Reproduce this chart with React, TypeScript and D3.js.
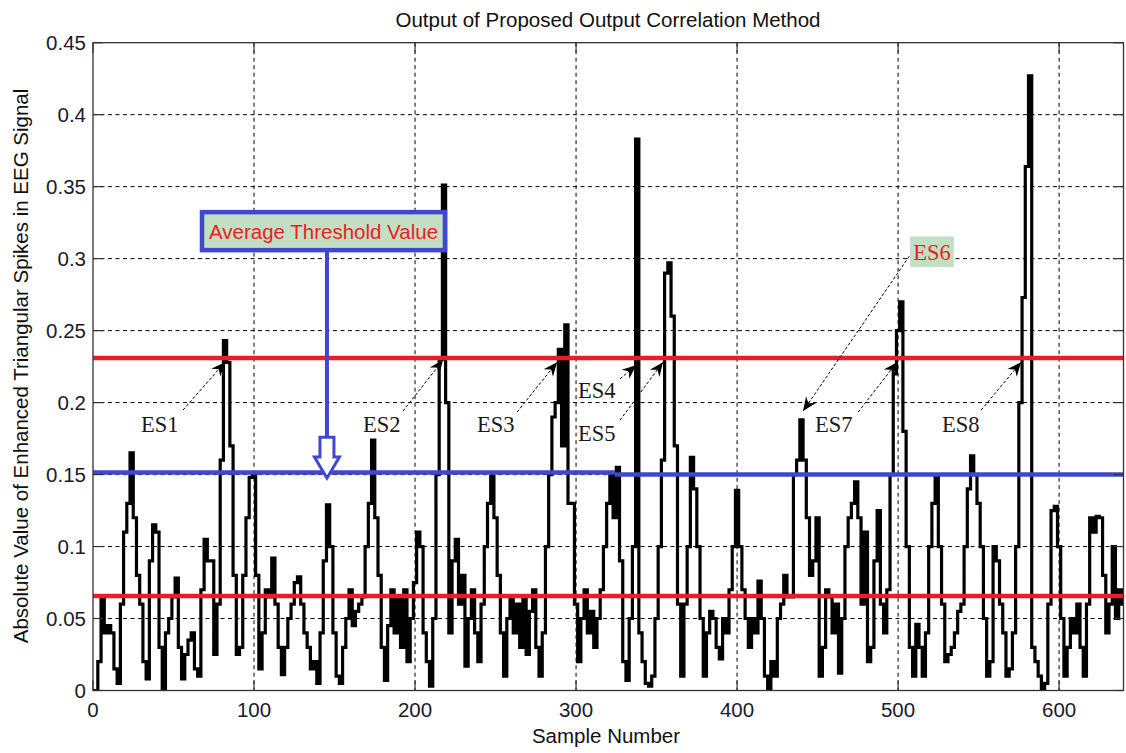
import React from 'react';
import * as d3 from 'd3';

// Output of the correlation detector, one value every other sample (0, 2, 4, ... 640)
const sampleStep = 2;
const signalValues = [
  0, 0, 0.02, 0.065, 0.04, 0.045, 0.04, 0.015, 0.005, 0.06,
  0.11, 0.13, 0.165, 0.12, 0.08, 0.06, 0.02, 0.008, 0.09, 0.115,
  0.11, 0.03, 0.0, 0.04, 0.05, 0.065, 0.078, 0.03, 0.008, 0.025,
  0.035, 0.04, 0.015, 0.01, 0.07, 0.105, 0.09, 0.09, 0.025, 0.06,
  0.16, 0.243, 0.228, 0.17, 0.08, 0.025, 0.03, 0.08, 0.12, 0.148,
  0.15, 0.08, 0.015, 0.04, 0.07, 0.065, 0.092, 0.06, 0.03, 0.011,
  0.03, 0.05, 0.06, 0.075, 0.079, 0.06, 0.04, 0.03, 0.015, 0.02,
  0.005, 0.04, 0.09, 0.129, 0.1, 0.04, 0.01, 0.005, 0.03, 0.05,
  0.07, 0.045, 0.055, 0.06, 0.065, 0.1, 0.13, 0.174, 0.12, 0.08,
  0.03, 0.007, 0.045, 0.07, 0.04, 0.065, 0.03, 0.07, 0.02, 0.05,
  0.075, 0.11, 0.1, 0.04, 0.02, 0.003, 0.05, 0.15, 0.23, 0.351,
  0.2, 0.04, 0.09, 0.105, 0.06, 0.08, 0.017, 0.05, 0.07, 0.04,
  0.02, 0.06, 0.1, 0.13, 0.149, 0.12, 0.08, 0.04, 0.01, 0.05,
  0.065, 0.04, 0.06, 0.03, 0.065, 0.025, 0.055, 0.07, 0.03, 0.01,
  0.04, 0.1, 0.15, 0.19, 0.2, 0.237, 0.17, 0.254, 0.13, 0.13,
  0.06, 0.02, 0.05, 0.07, 0.04, 0.055, 0.03, 0.05, 0.07, 0.1,
  0.13, 0.15, 0.12, 0.155, 0.09, 0.02, 0.007, 0.05, 0.1, 0.383,
  0.04, 0.02, 0.005, 0.003, 0.01, 0.05, 0.1, 0.16, 0.29, 0.297,
  0.26, 0.17, 0.06, 0.01, 0.06, 0.1, 0.162, 0.14, 0.1, 0.05,
  0.01, 0.04, 0.055, 0.05, 0.03, 0.022, 0.05, 0.04, 0.07, 0.1,
  0.139, 0.1, 0.07, 0.05, 0.03, 0.05, 0.04, 0.076, 0.05, 0.01,
  0.0, 0.02, 0.01, 0.05, 0.06, 0.08, 0.065, 0.065, 0.15, 0.16,
  0.188, 0.16, 0.12, 0.08, 0.09, 0.12, 0.01, 0.03, 0.07, 0.065,
  0.04, 0.06, 0.012, 0.05, 0.1, 0.12, 0.13, 0.145, 0.12, 0.06,
  0.11, 0.02, 0.03, 0.09, 0.125, 0.06, 0.04, 0.07, 0.15, 0.22,
  0.25, 0.27, 0.18, 0.1, 0.03, 0.01, 0.046, 0.03, 0.01, 0.04,
  0.1, 0.13, 0.15, 0.1, 0.06, 0.02, 0.025, 0.03, 0.04, 0.055,
  0.06, 0.1, 0.14, 0.163, 0.15, 0.13, 0.1, 0.05, 0.01, 0.02,
  0.1, 0.09, 0.06, 0.04, 0.01, 0.015, 0.04, 0.1, 0.2, 0.273,
  0.364, 0.427, 0.03, 0.02, 0.01, 0.0, 0.005, 0.06, 0.125, 0.128,
  0.1, 0.05, 0.01, 0.03, 0.05, 0.04, 0.06, 0.03, 0.01, 0.06,
  0.12, 0.11, 0.121, 0.12, 0.08, 0.04, 0.06, 0.1, 0.05, 0.07,
  0.06,
];

const xTicks = [0, 100, 200, 300, 400, 500, 600];
const yTicks = [0, 0.05, 0.1, 0.15, 0.2, 0.25, 0.3, 0.35, 0.4, 0.45];
const yTickLabels = ['0', '0.05', '0.1', '0.15', '0.2', '0.25', '0.3', '0.35', '0.4', '0.45'];

// Threshold levels
const upperThreshold = 0.231;
const lowerThreshold = 0.0656;
const averageThresholdStart = [0, 324];
const averageThresholdEnd = [324, 640];
const averageThresholdLevel = [0.1515, 0.15];

// Spike annotations (sample, value) for label, arrow tail and arrow tip
const spikeNames = ['ES1', 'ES2', 'ES3', 'ES4', 'ES5', 'ES7', 'ES8'];
const spikeLabelAt = [
  [29.8, 0.1795], [167.7, 0.1795], [238.5, 0.1795], [301.2, 0.2031],
  [301.2, 0.1735], [448.4, 0.1795], [527.3, 0.1795],
];
const spikeArrowFrom = [
  [55.9, 0.1948], [192.5, 0.1941], [263.4, 0.1934], [327.3, 0.2165],
  [327.3, 0.1878], [475.2, 0.1934], [551.6, 0.1948],
];
const spikeArrowTo = [
  [82.0, 0.2281], [217.4, 0.2295], [288.2, 0.2281], [337.3, 0.2260],
  [354.0, 0.2281], [499.4, 0.2281], [576.4, 0.2281],
];
const es6Name = 'ES6';
const es6Box = [507.5, 534.6, 0.3155, 0.2942];
const es6From = [508.7, 0.3045];
const es6To = [441.0, 0.1941];

const avgLabel = 'Average Threshold Value';
const avgBox = [67.7, 218.6, 0.3323, 0.3059];
const avgArrowSample = 145.3;
const avgArrowLevels = [0.3059, 0.176, 0.1622, 0.1475];

const W = 1126;
const H = 753;
const margin = { left: 93, right: 2.5, top: 42.7, bottom: 62.5 };

const x = d3.scaleLinear().domain([0, 640]).range([margin.left, W - margin.right]);
const y = d3.scaleLinear().domain([0, 0.45]).range([H - margin.bottom, margin.top]);

const RED = '#ec1c24';
const BLUE = '#3f48cc';
const GREEN = '#c3dfc3';
const SANS = '"Liberation Sans", Arial, sans-serif';
const SERIF = '"Liberation Serif", "Times New Roman", serif';

function arrowHead(x1: number, y1: number, x2: number, y2: number, L = 14, Wd = 6, back = 4.5) {
  const dx = x2 - x1;
  const dy = y2 - y1;
  const len = Math.hypot(dx, dy);
  const ux = dx / len;
  const uy = dy / len;
  const nx = -uy;
  const ny = ux;
  const bx = x2 - ux * L;
  const by = y2 - uy * L;
  const mx = x2 - ux * (L - back);
  const my = y2 - uy * (L - back);
  return `M${x2},${y2}L${bx + nx * Wd},${by + ny * Wd}L${mx},${my}L${bx - nx * Wd},${by - ny * Wd}Z`;
}

export default function App() {
  const data = signalValues.map((v, i) => [i * sampleStep, v] as [number, number]);
  const line = d3
    .line<[number, number]>()
    .x((d) => x(d[0]))
    .y((d) => y(d[1]))
    .curve(d3.curveStep);

  const x0 = x(0);
  const x1 = x(640);
  const yTop = y(0.45);
  const yBot = y(0);
  const tickLen = 10;

  const ac = x(avgArrowSample);
  const shaftTop = y(avgArrowLevels[1]);
  const headBase = y(avgArrowLevels[2]);
  const tip = y(avgArrowLevels[3]);
  const blockArrow = `M${ac - 7},${shaftTop}L${ac + 7},${shaftTop}L${ac + 7},${headBase}L${ac + 12.5},${headBase}L${ac},${tip}L${ac - 12.5},${headBase}L${ac - 7},${headBase}Z`;

  return (
    <svg
      width={W}
      height={H}
      style={{ position: 'absolute', left: 0, top: 0, background: '#fff' }}
    >
      <rect x={0} y={0} width={W} height={H} fill="#fff" />
      <defs>
        <clipPath id="plotClip">
          <rect x={x0} y={yTop} width={x1 - x0} height={yBot - yTop} />
        </clipPath>
      </defs>

      {/* grid */}
      <g stroke="#000" strokeWidth={1} strokeDasharray="4,3.5">
        {xTicks.filter((t) => t > 0).map((t) => (
          <line key={`gx${t}`} x1={x(t)} x2={x(t)} y1={yTop} y2={yBot} />
        ))}
        {yTicks.filter((t) => t > 0 && t < 0.45).map((t) => (
          <line key={`gy${t}`} x1={x0} x2={x1} y1={y(t)} y2={y(t)} />
        ))}
      </g>

      {/* signal */}
      <path
        d={line(data) || ''}
        fill="none"
        stroke="#000"
        strokeWidth={3.2}
        strokeLinejoin="miter"
        clipPath="url(#plotClip)"
      />

      {/* thresholds */}
      <line x1={x0} x2={x1} y1={y(upperThreshold)} y2={y(upperThreshold)} stroke={RED} strokeWidth={4.5} />
      <line x1={x0} x2={x1} y1={y(lowerThreshold)} y2={y(lowerThreshold)} stroke={RED} strokeWidth={4.5} />
      {averageThresholdLevel.map((v, i) => (
        <line
          key={`avg${i}`}
          x1={x(averageThresholdStart[i])}
          x2={x(averageThresholdEnd[i])}
          y1={y(v)}
          y2={y(v)}
          stroke={BLUE}
          strokeWidth={4.5}
        />
      ))}

      {/* axes box and ticks */}
      <rect x={x0} y={yTop} width={x1 - x0} height={yBot - yTop} fill="none" stroke="#333" strokeWidth={1.3} />
      <g stroke="#333" strokeWidth={1.2}>
        {xTicks.map((t) => (
          <g key={`tx${t}`}>
            <line x1={x(t)} x2={x(t)} y1={yBot} y2={yBot - tickLen} />
            <line x1={x(t)} x2={x(t)} y1={yTop} y2={yTop + tickLen} />
          </g>
        ))}
        {yTicks.map((t) => (
          <g key={`ty${t}`}>
            <line x1={x0} x2={x0 + tickLen} y1={y(t)} y2={y(t)} />
            <line x1={x1} x2={x1 - tickLen} y1={y(t)} y2={y(t)} />
          </g>
        ))}
      </g>

      {/* tick labels */}
      <g fontFamily={SANS} fontSize={20.5} fill="#1a1a2e">
        {xTicks.map((t) => (
          <text key={`lx${t}`} x={x(t)} y={717} textAnchor="middle">
            {t}
          </text>
        ))}
        {yTicks.map((t, i) => (
          <text key={`ly${t}`} x={86} y={y(t) + 7.5} textAnchor="end">
            {yTickLabels[i]}
          </text>
        ))}
      </g>

      {/* titles */}
      <text x={608} y={26.5} textAnchor="middle" fontFamily={SANS} fontSize={20.5} fill="#111">
        Output of Proposed Output Correlation Method
      </text>
      <text x={606} y={743} textAnchor="middle" fontFamily={SANS} fontSize={20.5} fill="#111">
        Sample Number
      </text>
      <text
        transform={`translate(28,366) rotate(-90)`}
        textAnchor="middle"
        fontFamily={SANS}
        fontSize={20.5}
        fill="#111"
      >
        Absolute Value of Enhanced Triangular Spikes in EEG Signal
      </text>

      {/* average threshold callout */}
      <line x1={ac} x2={ac} y1={y(avgArrowLevels[0])} y2={shaftTop} stroke={BLUE} strokeWidth={4} />
      <path d={blockArrow} fill="#fff" stroke={BLUE} strokeWidth={3} strokeLinejoin="miter" />
      <rect
        x={x(avgBox[0])}
        y={y(avgBox[2])}
        width={x(avgBox[1]) - x(avgBox[0])}
        height={y(avgBox[3]) - y(avgBox[2])}
        fill={GREEN}
        stroke={BLUE}
        strokeWidth={4.5}
      />
      <text
        x={(x(avgBox[0]) + x(avgBox[1])) / 2}
        y={y(avgBox[3]) - 11}
        textAnchor="middle"
        fontFamily={SANS}
        fontSize={20.5}
        fill={RED}
      >
        {avgLabel}
      </text>

      {/* spike annotations */}
      {spikeNames.map((name, i) => {
        const fx = x(spikeArrowFrom[i][0]);
        const fy = y(spikeArrowFrom[i][1]);
        const tx = x(spikeArrowTo[i][0]);
        const ty = y(spikeArrowTo[i][1]);
        return (
          <g key={name}>
            <line x1={fx} y1={fy} x2={tx} y2={ty} stroke="#000" strokeWidth={1} strokeDasharray="3,2" />
            <path d={arrowHead(fx, fy, tx, ty)} fill="#000" />
            <text
              x={x(spikeLabelAt[i][0])}
              y={y(spikeLabelAt[i][1])}
              fontFamily={SERIF}
              fontSize={22.5}
              fill="#1a1a1a"
            >
              {name}
            </text>
          </g>
        );
      })}

      {/* ES6 callout */}
      <line
        x1={x(es6From[0])}
        y1={y(es6From[1])}
        x2={x(es6To[0])}
        y2={y(es6To[1])}
        stroke="#000"
        strokeWidth={1}
        strokeDasharray="3,2"
      />
      <path d={arrowHead(x(es6From[0]), y(es6From[1]), x(es6To[0]), y(es6To[1]))} fill="#000" />
      <rect
        x={x(es6Box[0])}
        y={y(es6Box[2])}
        width={x(es6Box[1]) - x(es6Box[0])}
        height={y(es6Box[3]) - y(es6Box[2])}
        fill={GREEN}
      />
      <text
        x={(x(es6Box[0]) + x(es6Box[1])) / 2}
        y={y(es6Box[3]) - 7}
        textAnchor="middle"
        fontFamily={SERIF}
        fontSize={22.5}
        fill={RED}
      >
        {es6Name}
      </text>
    </svg>
  );
}
